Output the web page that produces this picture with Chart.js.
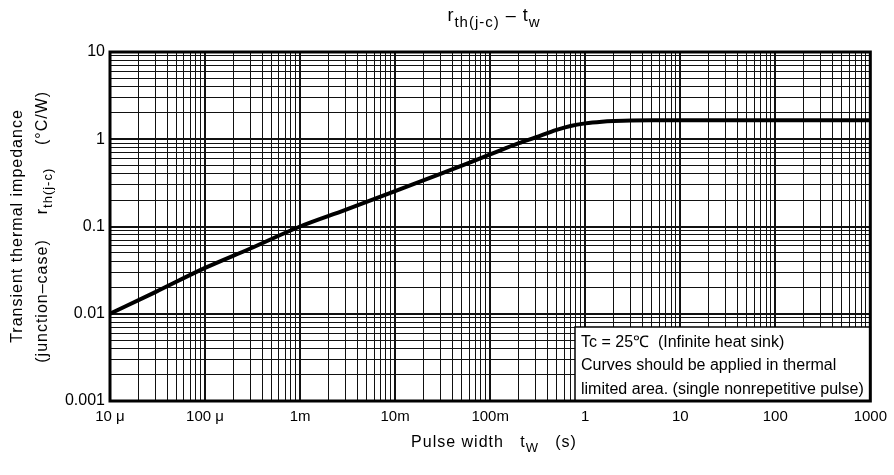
<!DOCTYPE html>
<html>
<head>
<meta charset="utf-8">
<script src="https://cdn.jsdelivr.net/npm/chart.js@4.4.1/dist/chart.umd.min.js"></script>
<style>
  html, body { margin: 0; padding: 0; background: #fff; }
  #wrap { width: 894px; height: 475px; }
</style>
</head>
<body>
<div id="wrap"><canvas id="rthChart"></canvas></div>
<script>
// values
const pulseWidth = [1e-5, 3e-5, 1e-4, 3e-4, 1e-3, 3e-3, 1e-2, 3e-2, 0.1, 0.2, 0.3, 0.5, 0.7, 1, 1.5, 2, 3, 5, 10, 100, 1000];
const impedance  = [0.01, 0.0177, 0.0335, 0.056, 0.1, 0.155, 0.255, 0.4, 0.67, 0.9, 1.05, 1.28, 1.42, 1.52, 1.59, 1.62, 1.645, 1.65, 1.65, 1.65, 1.65];

const xDecades = [1e-5, 1e-4, 1e-3, 1e-2, 1e-1, 1, 10, 100, 1000];
const xTickLabels = ['10 μ', '100 μ', '1m', '10m', '100m', '1', '10', '100', '1000'];
const yDecades = [0.001, 0.01, 0.1, 1, 10];
const yTickLabels = ['0.001', '0.01', '0.1', '1', '10'];

const noteLines = [
    'Tc = 25℃  (Infinite heat sink)',
    'Curves should be applied in thermal',
    'limited area. (single nonrepetitive pulse)'
];

const FONT = '"Liberation Sans", Arial, sans-serif';

function logTicks(decades) {
    const out = [];
    for (let i = 0; i < decades.length - 1; i++) {
        for (let k = 1; k <= 9; k++) {
            out.push({ value: parseFloat((k * decades[i]).toPrecision(6)) });
        }
    }
    out.push({ value: decades[decades.length - 1] });
    return out;
}

function decadeIndex(v, decades) {
    return decades.findIndex(d => Math.abs(v / d - 1) < 1e-6);
}

// draws a run of [text, size, dy] pieces centred on (x, y)
function drawRich(ctx, parts, x, y, rotate) {
    ctx.save();
    ctx.translate(x, y);
    if (rotate) ctx.rotate(-Math.PI / 2);
    ctx.textAlign = 'left';
    ctx.textBaseline = 'alphabetic';
    ctx.letterSpacing = '1px';
    let total = 0;
    parts.forEach(p => {
        ctx.font = p[1] + 'px ' + FONT;
        total += ctx.measureText(p[0]).width;
    });
    let cx = -total / 2;
    parts.forEach(p => {
        ctx.font = p[1] + 'px ' + FONT;
        ctx.fillText(p[0], cx, p[2]);
        cx += ctx.measureText(p[0]).width;
    });
    ctx.restore();
}

const decorPlugin = {
    id: 'decor',
    afterDraw(chart) {
        const { ctx, chartArea: a } = chart;
        ctx.save();

        // note box in the lower right corner
        const bx = 575, by = 327;
        ctx.fillStyle = '#fff';
        ctx.fillRect(bx, by, a.right - bx, a.bottom - by);
        ctx.strokeStyle = '#000';
        ctx.lineWidth = 1.5;
        ctx.strokeRect(bx, by, a.right - bx, a.bottom - by);
        ctx.fillStyle = '#000';
        ctx.font = '16px ' + FONT;
        ctx.textBaseline = 'alphabetic';
        noteLines.forEach((t, i) => ctx.fillText(t, bx + 6, by + 20 + i * 23.3));

        // frame
        ctx.lineWidth = 3;
        ctx.strokeRect(a.left, a.top, a.right - a.left, a.bottom - a.top);

        // title
        drawRich(ctx, [['r', 18, 0], ['th(j-c)', 15, 6], [' – t', 18, 0], ['w', 15, 6]], 494, 21, false);

        // x axis title
        drawRich(ctx, [['Pulse width   t', 16, 0], ['W', 13, 5], ['   (s)', 16, 0]], 494, 447, false);

        // y axis title, two columns
        drawRich(ctx, [['Transient thermal impedance', 16, 0]], 22, 226, true);
        drawRich(ctx, [['(junction–case)', 16, 0]], 47, 301, true);
        drawRich(ctx, [['r', 16, 0], ['th(j-c)', 13, 5]], 47, 191, true);
        drawRich(ctx, [['(°C/W)', 16, 0]], 47, 118, true);

        ctx.restore();
    }
};

const ctx = document.getElementById('rthChart').getContext('2d');
new Chart(ctx, {
    type: 'line',
    data: {
        datasets: [{
            label: 'rth(j-c)',
            data: pulseWidth.map((x, i) => ({ x: x, y: impedance[i] })),
            borderColor: '#000',
            borderWidth: 4,
            pointRadius: 0,
            fill: false,
            cubicInterpolationMode: 'monotone'
        }]
    },
    options: {
        responsive: true,
        maintainAspectRatio: false,
        animation: false,
        layout: { padding: { left: 0, right: 17, top: 52, bottom: 0 } },
        plugins: {
            legend: { display: false },
            tooltip: { enabled: false }
        },
        scales: {
            x: {
                type: 'logarithmic',
                min: xDecades[0],
                max: xDecades[xDecades.length - 1],
                afterBuildTicks: s => { s.ticks = logTicks(xDecades); },
                afterFit: s => { s.height = 74; },
                ticks: {
                    autoSkip: false,
                    maxRotation: 0,
                    padding: 7,
                    color: '#000',
                    font: { family: FONT, size: 15 },
                    callback: function(value) {
                        const i = decadeIndex(value, xDecades);
                        return i >= 0 ? xTickLabels[i] : '';
                    }
                },
                grid: {
                    color: '#111',
                    drawTicks: false,
                    lineWidth: c => (c.tick && decadeIndex(c.tick.value, xDecades) >= 0) ? 2 : 1
                },
                border: { display: false }
            },
            y: {
                type: 'logarithmic',
                min: yDecades[0],
                max: yDecades[yDecades.length - 1],
                afterBuildTicks: s => { s.ticks = logTicks(yDecades); },
                afterFit: s => { s.width = 110; },
                ticks: {
                    autoSkip: false,
                    padding: 5,
                    color: '#000',
                    font: { family: FONT, size: 16 },
                    callback: function(value) {
                        const i = decadeIndex(value, yDecades);
                        return i >= 0 ? yTickLabels[i] : '';
                    }
                },
                grid: {
                    color: '#111',
                    drawTicks: false,
                    lineWidth: c => (c.tick && decadeIndex(c.tick.value, yDecades) >= 0) ? 2 : 1
                },
                border: { display: false }
            }
        }
    },
    plugins: [decorPlugin]
});
</script>
</body>
</html>
